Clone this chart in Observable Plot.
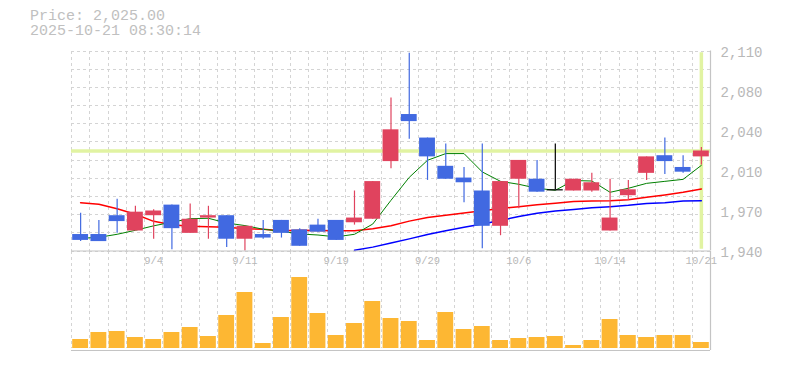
<!DOCTYPE html>
<html><head><meta charset="utf-8">
<script src="https://cdn.jsdelivr.net/npm/d3@7"></script>
<script src="https://cdn.jsdelivr.net/npm/@observablehq/plot@0.6"></script>
<style>
body{margin:0;background:#fff;}
#wrap{position:relative;width:785px;height:370px;overflow:hidden;font-family:"Liberation Mono",monospace;}
#title{position:absolute;left:30px;top:9px;font-size:15px;line-height:15px;color:#c0c0c0;white-space:pre;z-index:5;}
#wrap svg{position:absolute;left:0;top:0;}
</style></head><body>
<div id="wrap"><div id="title"></div></div>
<script>
// ---- data ----
const dates = ["8/29","9/1","9/2","9/3","9/4","9/5","9/8","9/9","9/10","9/11","9/12","9/16","9/17","9/18","9/19","9/22","9/24","9/25","9/26","9/29","9/30","10/1","10/2","10/3","10/6","10/7","10/8","10/9","10/10","10/14","10/15","10/16","10/17","10/20","10/21"];
const opens  = [1954,1954,1970,1957,1970,1979,1955,1968,1970,1950,1954,1966,1958,1962,1966,1964,1967,2016,2056,2036,2012,2002,1991,1961,2001,2001,1992,1991,1991,1957,1987,2006,2021,2011,2020];
const highs  = [1972,1966,1984,1978,1975,1979,1980,1978,1970,1961,1966,1966,1959,1967,1966,1991,1999,2070,2108,2036,2031,2011,2031,1999,2017,2017,2031,2001,2006,2001,2000,2020,2036,2021,2028];
const lows   = [1948,1948,1955,1957,1950,1941,1955,1950,1943,1940,1950,1951,1944,1956,1949,1962,1967,2010,2035,2000,2001,1981,1942,1953,1976,1990,1992,1991,1990,1957,1983,2000,2005,2006,2013];
const closes = [1949,1948,1965,1973,1974,1959,1967,1970,1950,1961,1951,1955,1944,1956,1949,1968,1999,2043,2050,2020,2001,1998,1961,1999,2017,1990,1992,2001,1998,1968,1992,2020,2016,2007,2025];
const volumes = [9000,16000,17000,11000,9000,16000,21000,12000,33000,56000,5000,31000,71000,35000,13000,25000,47000,30000,27000,8000,36000,19000,22000,8000,10000,11000,12000,3000,8000,29000,13000,11000,13000,13000,6000];
const ma5  = [1950.8,1951.6,1954.2,1957.6,1961.4,1964.5,1967.5,1967.8,1963.8,1961.6,1958.5,1956.8,1954.5,1953.6,1952.0,1954.2,1962.9,1983.1,2002.6,2017.1,2022.8,2022.8,2007.2,1999.2,1996.7,1993.3,1991.6,1999.9,1999.5,1989.9,1993.3,1997.5,1999.2,2000.9,2012.8];
const ma25 = [1981.1,1979.7,1975.9,1971.2,1965.2,1962.3,1961.0,1960.7,1960.1,1959.0,1958.4,1957.3,1957.6,1957.4,1957.3,1957.2,1958.9,1961.4,1965.4,1968.5,1970.3,1972.3,1974.3,1976.1,1977.7,1979.4,1980.6,1982.0,1982.5,1982.7,1983.5,1985.6,1987.6,1989.9,1992.7];
const ma75 = [null,null,null,null,null,null,null,null,null,null,null,null,null,null,null,1940.6,1943.3,1946.8,1950.3,1954.0,1957.3,1960.1,1963.0,1966.0,1969.3,1972.0,1974.0,1975.3,1976.7,1977.7,1978.8,1980.3,1981.1,1982.4,1982.8];
const lastPrice = 2025;
const titleLines = ["Price: 2,025.00", "2025-10-21 08:30:14"];
const yTicks = [1940,1974,2008,2042,2076,2110];
const yTickLabels = ["1,940","1,970","2,010","2,040","2,080","2,110"];
const xTicks = ["9/4","9/11","9/19","9/29","10/6","10/14","10/21"];
const yDomain = [1940, 2110];
const volDomain = [0, 97000];

// ---- build ----
document.getElementById("title").textContent = titleLines.join("\n");
const rows = dates.map((d, i) => ({date: d, open: opens[i], high: highs[i], low: lows[i], close: closes[i], vol: volumes[i], ma5: ma5[i], ma25: ma25[i], ma75: ma75[i]}));
const candleColor = r => r.close > r.open ? "#e0435e" : r.close < r.open ? "#4169e1" : "#000000";
const bodies = rows.filter(r => r.close !== r.open);
const dojis = rows.filter(r => r.close === r.open);
const W = 785, H = 370, ML = 71, MR = 75;
const bw = (W - ML - MR) / dates.length;
const gridY = d3.range(12).map(k => yDomain[0] + k * (yDomain[1] - yDomain[0]) / 11);
const gridC = "#d4d4d4", frameC = "#c4c4c4", textC = "#b8b8b8";
const lastDate = dates[dates.length - 1];
const gridStyle = {stroke: gridC, strokeDasharray: "3,3", strokeWidth: 1, shapeRendering: "crispEdges"};

const priceSvg = Plot.plot({
  width: W, height: H,
  marginLeft: ML, marginRight: MR, marginTop: 50.5, marginBottom: H - 250.5,
  style: {background: "transparent", fontFamily: "Liberation Mono, monospace", overflow: "visible"},
  x: {type: "band", domain: dates, padding: 0, round: false, axis: null},
  y: {domain: yDomain, axis: null},
  marks: [
    Plot.ruleY(gridY, gridStyle),
    Plot.ruleX(dates, {x: d => d, dx: -bw / 2, ...gridStyle}),
    Plot.ruleY([lastPrice], {stroke: "#e1f3a2", strokeWidth: 3.5}),
    Plot.ruleX([lastDate], {x: d => d, y1: 1941.5, y2: 2108.5, stroke: "#e1f3a2", strokeWidth: 3.5}),
    Plot.line(rows, {x: "date", y: "ma25", stroke: "#ff0000", strokeWidth: 1.5}),
    Plot.line(rows.filter(r => r.ma75 != null), {x: "date", y: "ma75", stroke: "#0000ff", strokeWidth: 1.5}),
    Plot.line(rows, {x: "date", y: "ma5", stroke: "#008000", strokeWidth: 1}),
    Plot.ruleX(rows, {x: "date", y1: "low", y2: "high", stroke: candleColor, strokeWidth: 1.2}),
    Plot.barY(bodies, {x: "date", y1: "open", y2: "close", fill: candleColor, insetLeft: 1.2, insetRight: 1.2}),
    Plot.tickY(dojis, {x: "date", y: "close", stroke: "#000000", strokeWidth: 1.2, insetLeft: 1.2, insetRight: 1.2}),
    Plot.ruleY([yDomain[0]], {stroke: frameC, strokeWidth: 1.2}),
    Plot.ruleX([lastDate], {x: d => d, dx: bw / 2, stroke: frameC, strokeWidth: 1.2}),
    Plot.axisY({anchor: "right", ticks: yTicks, tickFormat: d => yTickLabels[yTicks.indexOf(d)], tickSize: 0, tickPadding: 10, dy: 2, fontSize: 14, fill: textC, label: null}),
    Plot.axisX({anchor: "bottom", ticks: xTicks, tickSize: 0, tickPadding: 6, fontSize: 10.5, fill: textC, label: null})
  ]
});

const volSvg = Plot.plot({
  width: W, height: H,
  marginLeft: ML, marginRight: MR, marginTop: 251, marginBottom: 22,
  style: {background: "transparent", fontFamily: "Liberation Mono, monospace", overflow: "visible"},
  x: {type: "band", domain: dates, padding: 0, round: false, axis: null},
  y: {domain: volDomain, axis: null},
  marks: [
    Plot.ruleX(dates, {x: d => d, dx: -bw / 2, ...gridStyle}),
    Plot.barY(rows, {x: "date", y: "vol", fill: "#fdb733", insetLeft: 1.2, insetRight: 1.2}),
    Plot.ruleY([0], {dy: 2, stroke: frameC, strokeWidth: 1.2}),
    Plot.ruleX([lastDate], {x: d => d, dx: bw / 2, insetBottom: -2, stroke: frameC, strokeWidth: 1.2})
  ]
});

const wrap = document.getElementById("wrap");
wrap.appendChild(volSvg);
wrap.appendChild(priceSvg);
</script>
</body></html>
